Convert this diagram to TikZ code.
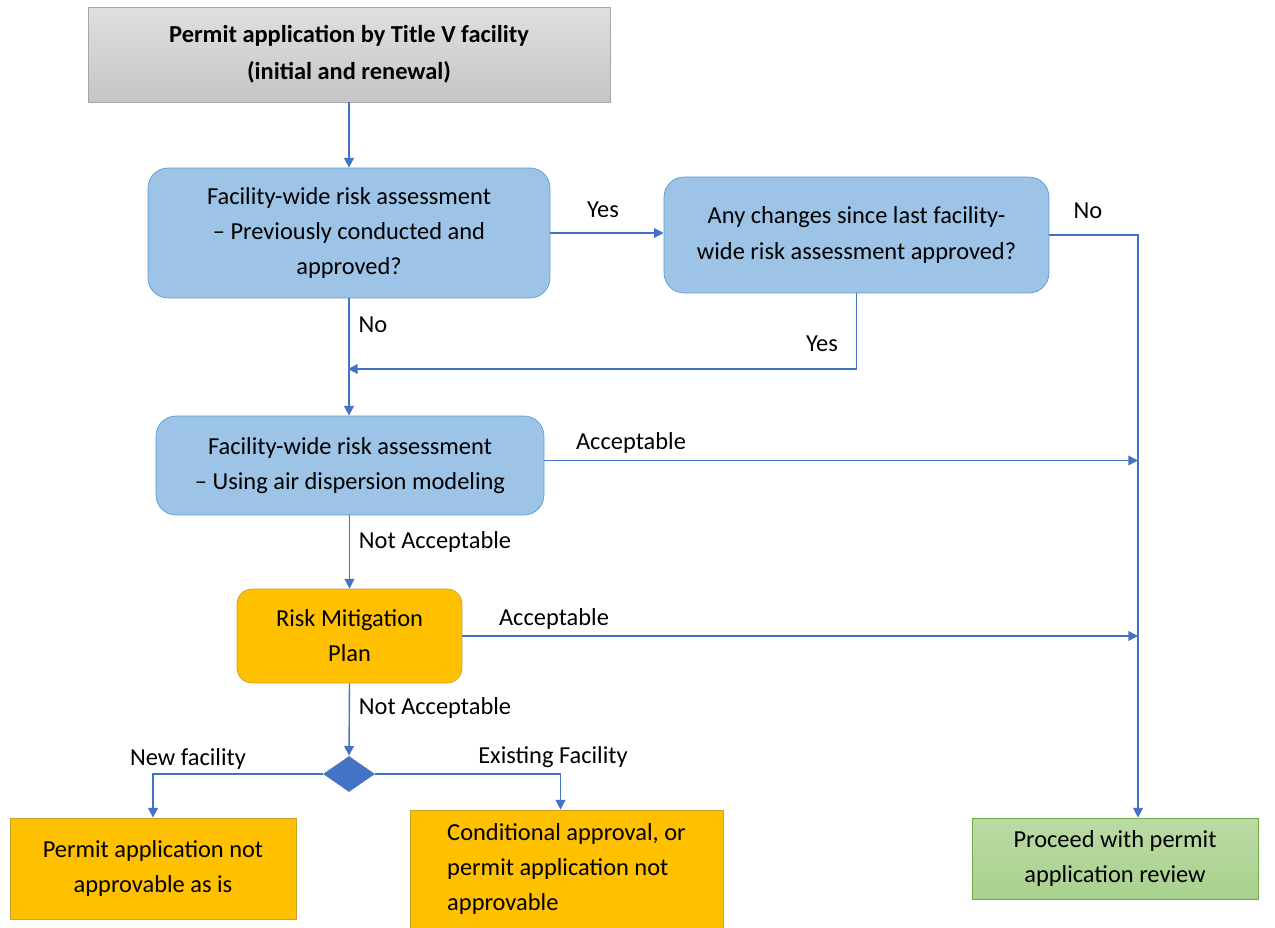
\documentclass[tikz,border=0pt]{standalone}
\usepackage{fontspec}
\setmainfont{Carlito}
\usepackage{tikz}
\usetikzlibrary{arrows.meta,positioning,shapes.geometric,calc}

\definecolor{linkblue}{HTML}{4472C4}
\definecolor{stepblue}{HTML}{9DC3E6}
\definecolor{stepedge}{HTML}{5B9BD5}
\definecolor{amber}{HTML}{FFC000}
\definecolor{amberedge}{HTML}{C9A227}
\definecolor{okgreen}{HTML}{A9D18E}
\definecolor{okedge}{HTML}{70AD47}

\begin{document}
\begin{tikzpicture}[x=0.02cm,y=-0.02cm,
		font=\fontsize{13.9}{20}\selectfont,
		greybox/.style={rectangle,draw=gray!70,top color=gray!25,bottom color=gray!45,align=center,font=\fontsize{13.9}{21}\selectfont\bfseries},
		bluebox/.style={rectangle,rounded corners=0.4cm,draw=stepedge,fill=stepblue,align=center},
		ambox/.style={rectangle,draw=amberedge,fill=amber,align=center},
		greenbox/.style={rectangle,draw=okedge,top color=okgreen!80,bottom color=okgreen,align=center},
		choice/.style={diamond,fill=linkblue,inner sep=0mm,minimum width=1.04cm,minimum height=0.72cm},
		flow/.style={draw=linkblue,line width=0.8pt,-{Triangle[width=5.5pt,length=5.5pt]}},
		tag/.style={inner sep=0mm}
	]
		\useasboundingbox (0,0) rectangle (1275,928);

		% boxes
		\node[greybox,minimum width=10.44cm,minimum height=1.9cm] (start) at (349,54.5)
			{Permit application by Title V facility\\(initial and renewal)};
		\node[bluebox,minimum width=8.04cm,minimum height=2.6cm] (prev) at (349,233)
			{Facility-wide risk assessment\\– Previously conducted and\\approved?};
		\node[bluebox,minimum width=7.7cm,minimum height=2.32cm] (changes) at (856.5,235)
			{Any changes since last facility-\\wide risk assessment approved?};
		\node[bluebox,minimum width=7.76cm,minimum height=1.98cm] (model) at (350,465.5)
			{Facility-wide risk assessment\\– Using air dispersion modeling};
		\node[ambox,rounded corners=0.3cm,minimum width=4.5cm,minimum height=1.88cm] (plan) at (349.5,636)
			{Risk Mitigation\\Plan};
		\node[choice] (split) at (349,774) {};
		\node[ambox,minimum width=5.72cm,minimum height=2.02cm] (newfac) at (153,868.5)
			{Permit application not\\approvable as is};
		\node[ambox,align=left,minimum width=6.26cm,minimum height=2.36cm] (oldfac) at (566.5,869)
			{Conditional approval, or\\permit application not\\approvable};
		\node[greenbox,minimum width=5.72cm,minimum height=1.62cm] (review) at (1115,858.5)
			{Proceed with permit\\application review};

		\coordinate (rail) at (1138,0);
		\coordinate (merge) at (348,369);

		% connectors
		\draw[flow] (start) -- (start |- prev.north);
		\draw[flow] (prev.east) -- (prev.east -| changes.west);
		\draw[flow] (changes.east) -| (rail |- review.north);
		\draw[flow] (changes.south) |- (merge);
		\draw[flow] (prev.south) -- (prev.south |- model.north);
		\draw[flow] ($(model.east)+(0,-5)$) -- ($(rail |- model.east)+(0,-5)$);
		\draw[flow] (plan.north |- model.south) -- (plan.north);
		\draw[flow] (plan.east) -- (rail |- plan.east);
		\draw[flow] (plan.south) -- (split.north);
		\draw[flow] (split.west) -| (newfac.north);
		\draw[flow] (split.east) -| ($(oldfac.north)+(-6,0)$);

		% labels
		\node[tag] (yes1) at (603,210) {Yes};
		\node[tag] (no1) at (1088,211) {No};
		\node[tag] (yes2) at (822,344) {Yes};
		\node[tag] (no2) at (373,325) {No};
		\node[tag] (ok1) at (631,443) {Acceptable};
		\node[tag] (nok1) at (435,542) {Not Acceptable};
		\node[tag] (ok2) at (554,619) {Acceptable};
		\node[tag] (nok2) at (435,708) {Not Acceptable};
		\node[tag] (newlab) at (188,759) {New facility};
		\node[tag] (oldlab) at (553,757) {Existing Facility};
	\end{tikzpicture}
\end{document}
